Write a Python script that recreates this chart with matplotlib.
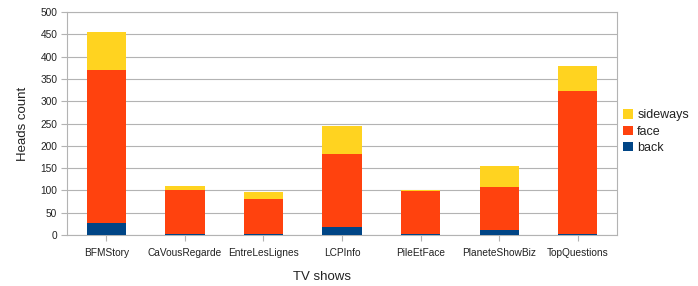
import matplotlib
matplotlib.use("Agg")
import matplotlib.pyplot as plt
import numpy as np

shows = ["BFMStory", "CaVousRegarde", "EntreLesLignes", "LCPInfo",
         "PileEtFace", "PlaneteShowBiz", "TopQuestions"]
back = [27, 2, 2, 19, 2, 11, 2]
face = [343, 99, 80, 162, 97, 97, 321]
sideways = [86, 9, 14, 63, 1, 47, 56]

plt.rcParams['font.family'] = ['Liberation Sans', 'DejaVu Sans']

fig = plt.figure(figsize=(6.98, 2.86), dpi=100)
ax = fig.add_axes([0.096, 0.178, 0.788, 0.780])

x = np.arange(len(shows))
w = 0.5
b = np.array(back)
f = np.array(face)
s = np.array(sideways)
ax.bar(x, b, w, color="#004586", label="back", zorder=3)
ax.bar(x, f, w, bottom=b, color="#ff420e", label="face", zorder=3)
ax.bar(x, s, w, bottom=b + f, color="#ffd320", label="sideways", zorder=3)

ax.set_xlim(-0.5, len(shows) - 0.5)
ax.set_ylim(0, 500)
ax.set_yticks(range(0, 501, 50))
ax.set_xticks(x)
ax.set_xticklabels(shows)
ax.yaxis.grid(True, color="#b3b3b3", linewidth=0.8, zorder=0)
for sp in ax.spines.values():
    sp.set_color("#b3b3b3")
    sp.set_linewidth(0.8)
ax.tick_params(axis="both", labelsize=7.3, color="#b3b3b3", length=4, width=0.8,
               pad=3, labelcolor="#222222")
ax.tick_params(axis="x", pad=5)

ax.set_ylabel("Heads count", fontsize=9.5, labelpad=8, color="#222222")
ax.set_xlabel("TV shows", fontsize=9.5, color="#222222")
ax.xaxis.set_label_coords(0.464, -0.16)

handles, labels = ax.get_legend_handles_labels()
leg = fig.legend(handles[::-1], labels[::-1], loc="upper left",
                 bbox_to_anchor=(0.886, 0.635), frameon=False, fontsize=9,
                 handlelength=0.75, handleheight=0.75, handletextpad=0.35,
                 labelspacing=0.35, borderaxespad=0)
for t in leg.get_texts():
    t.set_color("#222222")

fig.savefig("out.png", dpi=100)
